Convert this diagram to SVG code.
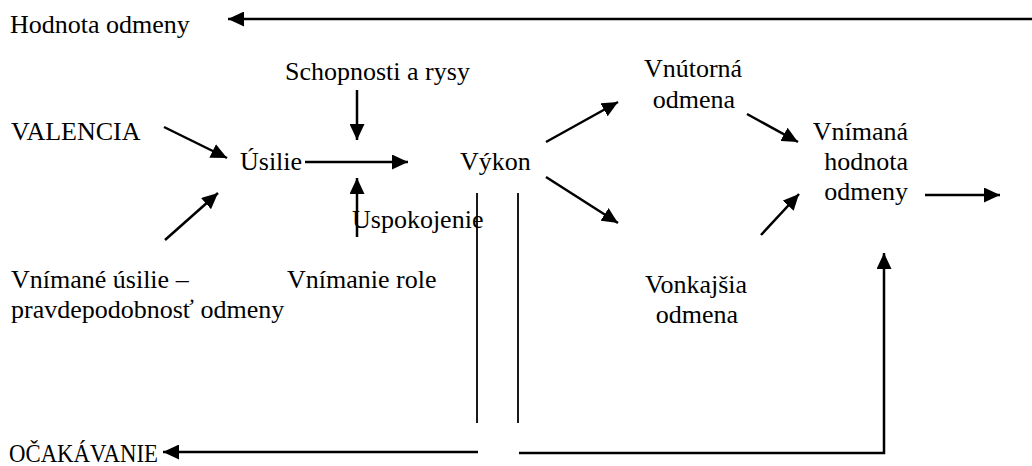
<svg xmlns="http://www.w3.org/2000/svg" width="1032" height="466" viewBox="0 0 1032 466">
<style>
text{font-family:'Liberation Serif','Tinos','DejaVu Serif',serif;font-size:26px;fill:#000}
.c{text-anchor:middle}
.r{text-anchor:end}
.a{stroke:#000;stroke-width:2.5;fill:none;marker-end:url(#ah)}
.p{stroke:#000;stroke-width:1.8;fill:none}
</style>
<defs>
<marker id="ah" markerUnits="userSpaceOnUse" markerWidth="17" markerHeight="15" refX="16" refY="7.5" orient="auto">
<path d="M0,0 L16,7.5 L0,15 z" fill="#000"/>
</marker>
</defs>
<rect width="1032" height="466" fill="#fff"/>
<g id="hodnota-odmeny"><text x="10" y="33">Hodnota odmeny</text></g>
<g id="schopnosti"><text x="285" y="80">Schopnosti a rysy</text></g>
<g id="valencia"><text x="11" y="140">VALENCIA</text></g>
<g id="usilie"><text x="240" y="170">Úsilie</text></g>
<g id="vykon"><text x="460" y="170">Výkon</text></g>
<g id="vnutorna"><text class="c" x="693" y="77">Vnútorná</text><text class="c" x="694" y="108">odmena</text></g>
<g id="vnimana-hodnota"><text class="r" x="908" y="140">Vnímaná</text><text class="r" x="908" y="170">hodnota</text><text class="r" x="908" y="200">odmeny</text></g>
<g id="uspokojenie"><text x="352" y="228">Uspokojenie</text></g>
<g id="vnimane-usilie"><text x="11" y="288">Vnímané úsilie –</text><text x="11" y="318">pravdepodobnosť odmeny</text></g>
<g id="vnimanie-role"><text x="287" y="288">Vnímanie role</text></g>
<g id="vonkajsia"><text class="c" x="696" y="293">Vonkajšia</text><text class="c" x="697" y="323">odmena</text></g>
<g id="ocakavanie"><text x="9" y="462" textLength="149" lengthAdjust="spacingAndGlyphs">OČAKÁVANIE</text></g>
<g id="connectors">
<line class="a" x1="1032" y1="19" x2="228" y2="19"/>
<line class="a" x1="164" y1="127" x2="227" y2="158"/>
<line class="a" x1="165" y1="240" x2="218" y2="193"/>
<line class="a" x1="357" y1="90" x2="357" y2="140"/>
<line class="a" x1="305" y1="162" x2="408" y2="162"/>
<line class="a" x1="357" y1="237" x2="357" y2="178"/>
<line class="a" x1="546" y1="142" x2="618" y2="102"/>
<line class="a" x1="546" y1="177" x2="618" y2="223"/>
<line class="a" x1="747" y1="114" x2="798" y2="142"/>
<line class="a" x1="761" y1="235" x2="799" y2="194"/>
<line class="a" x1="925" y1="195" x2="1000" y2="195"/>
<line class="a" x1="478" y1="452" x2="163" y2="452"/>
<polyline class="a" points="519,453 884,453 884,253"/>
<line class="p" x1="477" y1="193" x2="477" y2="423"/>
<line class="p" x1="518" y1="193" x2="518" y2="423"/>
</g>
</svg>
